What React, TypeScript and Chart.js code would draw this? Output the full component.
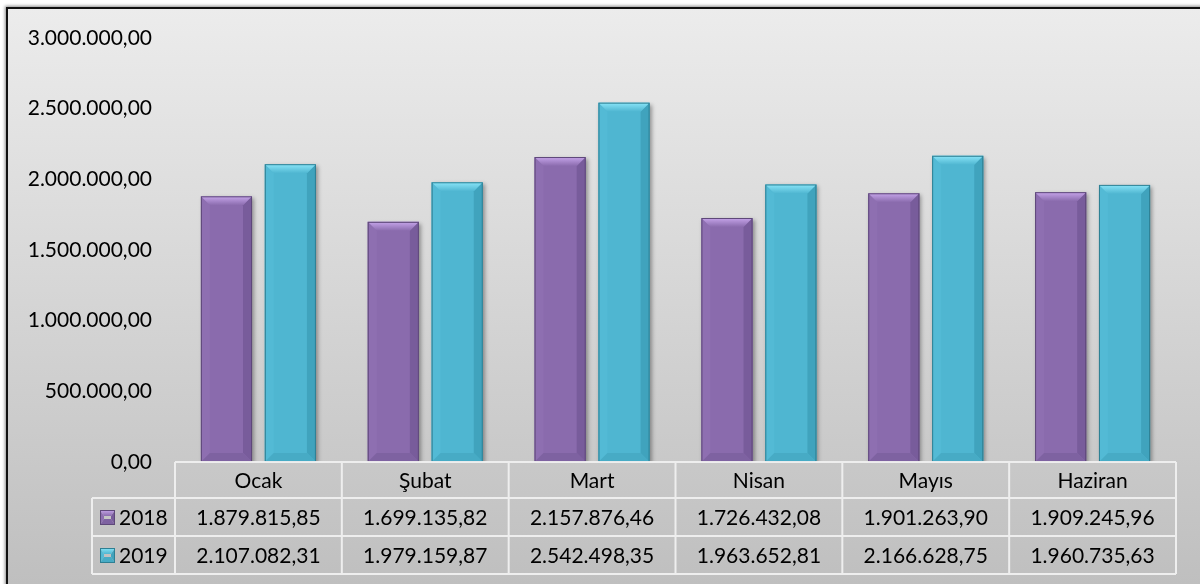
import React, { useEffect, useRef } from 'react';
import { Chart, registerables } from 'chart.js';

Chart.register(...registerables);

const months = ['Ocak', 'Şubat', 'Mart', 'Nisan', 'Mayıs', 'Haziran'];
const seriesNames = ['2018', '2019'];
const values2018 = [1879815.85, 1699135.82, 2157876.46, 1726432.08, 1901263.9, 1909245.96];
const values2019 = [2107082.31, 1979159.87, 2542498.35, 1963652.81, 2166628.75, 1960735.63];
const yMin = 0;
const yMax = 3000000;
const yStep = 500000;

const FONT = 'Lato, "Open Sans", sans-serif';
const FONT_SIZE = 21;

const palettes = [
  { body: '#8a6bad', top: '#c6a5ea', left: '#8e6fb1', right: '#785c9b', bottom: '#7e62a1', edge: '#5e4879' },
  { body: '#4fb6d1', top: '#8ae5f8', left: '#53bad5', right: '#40a3bd', bottom: '#47abc5', edge: '#2e7f93' },
];

function fmt(v: number): string {
  const fixed = Math.abs(v).toFixed(2);
  const [ip, dp] = fixed.split('.');
  const ipf = ip.replace(/\B(?=(\d{3})+(?!\d))/g, '.');
  return (v < 0 ? '-' : '') + ipf + ',' + dp;
}

function drawBevel(ctx: CanvasRenderingContext2D, l: number, t: number, r: number, b: number, p: any, bx: number, by: number) {
  const poly = (pts: number[][], fill: string | CanvasGradient) => {
    ctx.beginPath();
    ctx.moveTo(pts[0][0], pts[0][1]);
    for (let i = 1; i < pts.length; i++) ctx.lineTo(pts[i][0], pts[i][1]);
    ctx.closePath();
    ctx.fillStyle = fill;
    ctx.fill();
  };
  const h = b - t;
  const byy = Math.min(by, h / 2);
  const g = ctx.createLinearGradient(0, t, 0, t + byy);
  g.addColorStop(0, p.top);
  g.addColorStop(1, p.body);
  poly([[l, t], [l + bx, t + byy], [l + bx, b - byy], [l, b]], p.left);
  poly([[r, t], [r, b], [r - bx, b - byy], [r - bx, t + byy]], p.right);
  poly([[l, b], [r, b], [r - bx, b - byy], [l + bx, b - byy]], p.bottom);
  poly([[l, t], [r, t], [r - bx, t + byy], [l + bx, t + byy]], g);
  ctx.strokeStyle = p.edge;
  ctx.lineWidth = 1;
  ctx.strokeRect(l + 0.5, t + 0.5, r - l - 1, b - t - 1);
}

const backgroundPlugin = {
  id: 'bgFrame',
  beforeDraw(chart: any) {
    const ctx = chart.ctx as CanvasRenderingContext2D;
    const W = chart.width, H = chart.height;
    ctx.save();
    ctx.fillStyle = '#ffffff';
    ctx.fillRect(0, 0, W, H);
    const g = ctx.createLinearGradient(0, 8, 0, H);
    g.addColorStop(0, '#ececec');
    g.addColorStop(1, '#bfbfbf');
    ctx.shadowColor = 'rgba(0,0,0,0.45)';
    ctx.shadowBlur = 3;
    ctx.shadowOffsetX = -1;
    ctx.shadowOffsetY = -1;
    ctx.fillStyle = '#111';
    ctx.fillRect(6, 7, W, H);
    ctx.shadowColor = 'transparent';
    ctx.fillStyle = g;
    ctx.fillRect(8, 9, W, H);
    ctx.restore();
  },
  beforeDatasetsDraw(chart: any) {
    const ctx = chart.ctx as CanvasRenderingContext2D;
    ctx.save();
    ctx.shadowColor = 'rgba(0,0,0,0.35)';
    ctx.shadowBlur = 4;
    ctx.shadowOffsetX = 2;
    ctx.shadowOffsetY = 2;
  },
  afterDatasetsDraw(chart: any) {
    const ctx = chart.ctx as CanvasRenderingContext2D;
    ctx.restore();
    ctx.save();
    chart.data.datasets.forEach((_ds: any, di: number) => {
      const meta = chart.getDatasetMeta(di);
      const p = palettes[di];
      meta.data.forEach((el: any) => {
        const { x, y, base, width } = el.getProps(['x', 'y', 'base', 'width'], true);
        drawBevel(ctx, x - width / 2, y, x + width / 2, base, p, 9, 9);
      });
    });
    ctx.restore();
  },
  afterDraw(chart: any) {
    const ctx = chart.ctx as CanvasRenderingContext2D;
    const xs = chart.scales.x;
    const area = chart.chartArea;
    const n = months.length;
    const colW = (area.right - area.left) / n;
    const top = area.bottom;
    const rowH = [36, 38, 38];
    const y1 = top + rowH[0];
    const y2 = y1 + rowH[1];
    const y3 = y2 + rowH[2];
    const legL = 92;
    ctx.save();
    ctx.strokeStyle = 'rgba(240,240,240,0.95)';
    ctx.lineWidth = 2;
    ctx.beginPath();
    ctx.moveTo(area.left, top);
    ctx.lineTo(area.right, top);
    [y1, y2, y3].forEach((yy) => {
      ctx.moveTo(legL, yy);
      ctx.lineTo(area.right, yy);
    });
    for (let i = 0; i <= n; i++) {
      const xx = area.left + i * colW;
      ctx.moveTo(xx, top);
      ctx.lineTo(xx, y3);
    }
    ctx.moveTo(legL, y1);
    ctx.lineTo(legL, y3);
    ctx.stroke();

    ctx.fillStyle = '#000';
    ctx.font = `${FONT_SIZE}px ${FONT}`;
    ctx.textAlign = 'center';
    ctx.textBaseline = 'middle';
    const rows = [values2018, values2019];
    months.forEach((m, i) => {
      const cx = xs.getPixelForValue(i);
      ctx.fillText(m, cx, (top + y1) / 2 + 1);
      rows.forEach((vals, r) => {
        const yc = r === 0 ? (y1 + y2) / 2 : (y2 + y3) / 2;
        ctx.fillText(fmt(vals[i]), cx, yc + 1);
      });
    });
    ctx.textAlign = 'left';
    seriesNames.forEach((name, r) => {
      const yc = r === 0 ? (y1 + y2) / 2 : (y2 + y3) / 2;
      drawBevel(ctx, 100, yc - 7, 115, yc + 8, palettes[r], 4, 6);
      ctx.fillStyle = '#000';
      ctx.fillText(name, 119, yc + 1);
    });
    ctx.restore();
  },
};

export default function App() {
  const canvasRef = useRef<HTMLCanvasElement | null>(null);

  useEffect(() => {
    if (!canvasRef.current) return;
    const chart = new Chart(canvasRef.current, {
      type: 'bar',
      data: {
        labels: months,
        datasets: [
          {
            label: seriesNames[0],
            data: values2018,
            backgroundColor: palettes[0].body,
            borderWidth: 0,
            categoryPercentage: 0.766,
            barPercentage: 0.8,
          },
          {
            label: seriesNames[1],
            data: values2019,
            backgroundColor: palettes[1].body,
            borderWidth: 0,
            categoryPercentage: 0.766,
            barPercentage: 0.8,
          },
        ],
      },
      options: {
        animation: false,
        responsive: false,
        events: [],
        layout: { padding: { left: 0, top: 38, right: 24, bottom: 122 } },
        plugins: {
          legend: { display: false },
          tooltip: { enabled: false },
          title: { display: false },
        },
        scales: {
          x: {
            display: false,
          },
          y: {
            min: yMin,
            max: yMax,
            border: { display: false },
            grid: { display: false, drawTicks: false },
            ticks: {
              stepSize: yStep,
              padding: 23,
              color: '#000',
              font: { family: FONT, size: FONT_SIZE },
              callback: (v: any) => fmt(Number(v)),
            },
            afterFit: (scale: any) => {
              scale.width = 175;
            },
          },
        },
      },
      plugins: [backgroundPlugin],
    });
    return () => chart.destroy();
  }, []);

  return (
    <div style={{ position: 'fixed', left: 0, top: 0, width: 1200, height: 584 }}>
      <canvas ref={canvasRef} width={1200} height={584} style={{ display: 'block', width: 1200, height: 584 }} />
    </div>
  );
}
